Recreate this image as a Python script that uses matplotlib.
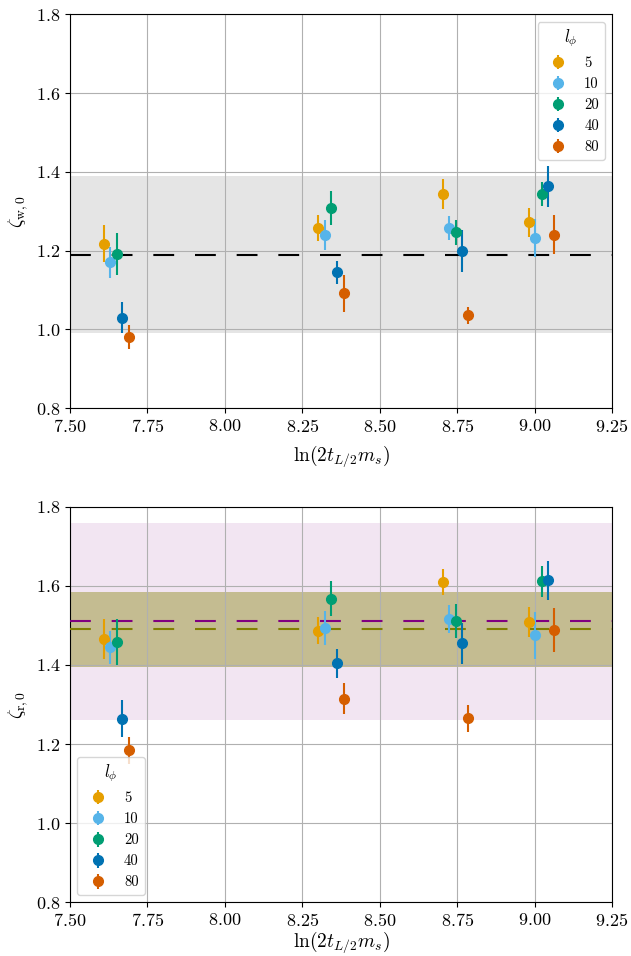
import matplotlib
matplotlib.use("Agg")
import matplotlib.pyplot as plt

plt.rcParams["font.family"] = "serif"
plt.rcParams["font.serif"] = ["cmr10"]
plt.rcParams["mathtext.fontset"] = "cm"
plt.rcParams["axes.formatter.use_mathtext"] = True
plt.rcParams["axes.unicode_minus"] = False

# l_phi values and colours
l_phi = [5, 10, 20, 40, 80]
colors = ["#E69F00", "#56B4E9", "#009E73", "#0072B2", "#D55E00"]

# x positions (ln(2 t_{L/2} m_s)) for each l_phi
x_vals = {
    5:  [7.609, 8.302, 8.705, 8.982],
    10: [7.630, 8.322, 8.725, 9.002],
    20: [7.650, 8.342, 8.745, 9.023],
    40: [7.669, 8.363, 8.765, 9.042],
    80: [7.690, 8.383, 8.786, 9.061],
}

# top panel: zeta_w,0
zw = {
    5:  [1.218, 1.258, 1.343, 1.272],
    10: [1.170, 1.239, 1.257, 1.232],
    20: [1.192, 1.309, 1.247, 1.344],
    40: [1.030, 1.145, 1.199, 1.363],
    80: [0.981, 1.092, 1.036, 1.241],
}
zw_err = {
    5:  [0.047, 0.033, 0.038, 0.037],
    10: [0.040, 0.038, 0.030, 0.048],
    20: [0.053, 0.043, 0.032, 0.031],
    40: [0.040, 0.030, 0.054, 0.052],
    80: [0.030, 0.047, 0.022, 0.049],
}
zw_fit = 1.19
zw_fit_err = 0.20

# bottom panel: zeta_r,0
zr = {
    5:  [1.465, 1.487, 1.609, 1.509],
    10: [1.445, 1.494, 1.516, 1.475],
    20: [1.457, 1.568, 1.511, 1.611],
    40: [1.264, 1.404, 1.455, 1.614],
    80: [1.184, 1.315, 1.265, 1.489],
}
zr_err = {
    5:  [0.051, 0.035, 0.033, 0.038],
    10: [0.042, 0.043, 0.035, 0.060],
    20: [0.058, 0.045, 0.043, 0.038],
    40: [0.047, 0.036, 0.052, 0.050],
    80: [0.035, 0.039, 0.035, 0.056],
}
zr_fit1 = 1.51
zr_fit1_err = 0.25
zr_fit2 = 1.49
zr_fit2_err = 0.095

dash = (0, (10, 10))

fig = plt.figure(figsize=(6.31, 9.56), dpi=100)
ax1 = fig.add_axes([0.111, 0.573, 0.859, 0.412])
ax2 = fig.add_axes([0.111, 0.056, 0.859, 0.414])


def draw_points(ax, y, yerr):
    for l, c in zip(l_phi, colors):
        ax.errorbar(x_vals[l], y[l], yerr=yerr[l], fmt="o", color=c,
                    ms=7, elinewidth=1.5, capsize=0, label=str(l), zorder=4)


# top
ax1.axhspan(zw_fit - zw_fit_err, zw_fit + zw_fit_err, color="gray",
            alpha=0.2, lw=0, zorder=1)
ax1.axhline(zw_fit, color="black", lw=1.5, ls=dash, zorder=3)
draw_points(ax1, zw, zw_err)
ax1.set_ylabel(r"$\zeta_{\mathrm{w},0}$", fontsize=14)
ax1.legend(title=r"$l_\phi$", loc="upper right", fontsize=10.5,
           title_fontsize=12)

# bottom
ax2.axhspan(zr_fit1 - zr_fit1_err, zr_fit1 + zr_fit1_err, color="purple",
            alpha=0.1, lw=0, zorder=1)
ax2.axhspan(zr_fit2 - zr_fit2_err, zr_fit2 + zr_fit2_err, color="olive",
            alpha=0.4, lw=0, zorder=1)
ax2.axhline(zr_fit1, color="purple", lw=1.5, ls=dash, zorder=3)
ax2.axhline(zr_fit2, color="olive", lw=1.5, ls=dash, zorder=3)
draw_points(ax2, zr, zr_err)
ax2.set_ylabel(r"$\zeta_{\mathrm{r},0}$", fontsize=14)
ax2.legend(title=r"$l_\phi$", loc="lower left", fontsize=10.5,
           title_fontsize=12)

for ax in (ax1, ax2):
    ax.set_xlim(7.5, 9.25)
    ax.set_ylim(0.8, 1.8)
    ax.set_xticks([7.5, 7.75, 8.0, 8.25, 8.5, 8.75, 9.0, 9.25])
    ax.set_yticks([0.8, 1.0, 1.2, 1.4, 1.6, 1.8])
    ax.tick_params(labelsize=13)
    ax.grid(True, zorder=2)

ax1.set_xlabel(r"$\ln(2t_{L/2}m_s)$", fontsize=14, labelpad=6)
ax2.set_xlabel(r"$\ln(2t_{L/2}m_s)$", fontsize=14, labelpad=0)

fig.savefig("out.png", dpi=100)
